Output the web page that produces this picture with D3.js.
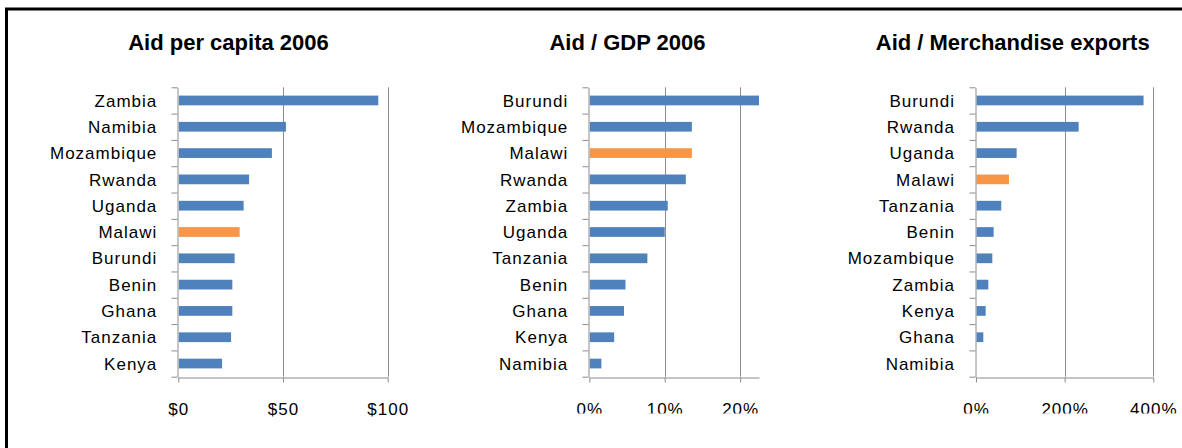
<!DOCTYPE html>
<meta charset="utf-8">
<style>
  body { margin: 0; background: #fff; }
  svg { display: block; }
  text { font-family: "Liberation Sans", Arial, sans-serif; fill: #000; }
  .cat, .tick text { font-size: 17px; letter-spacing: 1px; }
  .title { font-size: 22px; font-weight: bold; }
</style>
<svg id="chart" width="1182" height="448"></svg>
<script src="https://cdn.jsdelivr.net/npm/d3@7"></script>
<script>

// data
var countriesPerCapita = ["Zambia","Namibia","Mozambique","Rwanda","Uganda","Malawi","Burundi","Benin","Ghana","Tanzania","Kenya"];
var aidPerCapita = [95.5, 51.4, 44.7, 33.8, 31.2, 29.3, 26.9, 25.8, 25.8, 25.2, 20.9];

var countriesGdp = ["Burundi","Mozambique","Malawi","Rwanda","Zambia","Uganda","Tanzania","Benin","Ghana","Kenya","Namibia"];
var aidGdp = [22.5, 13.6, 13.6, 12.8, 10.4, 10.0, 7.7, 4.8, 4.6, 3.3, 1.6];

var countriesExports = ["Burundi","Rwanda","Uganda","Malawi","Tanzania","Benin","Mozambique","Zambia","Kenya","Ghana","Namibia"];
var aidExports = [378, 231.6, 91.7, 74.4, 57, 39.8, 36.8, 27.8, 21.8, 16.5, 0];

var titles = ["Aid per capita 2006", "Aid / GDP 2006", "Aid / Merchandise exports"];
var ticksPerCapita = [0, 50, 100];
var ticksGdp = [0, 10, 20];
var ticksExports = [0, 200, 400];
var highlight = "Malawi";

var svg = d3.select("#chart");

// frame (only top and left edges show)
svg.append("rect")
    .attr("x", 6.5).attr("y", 9)
    .attr("width", 1300).attr("height", 600)
    .attr("fill", "none")
    .attr("stroke", "#000")
    .attr("stroke-width", 3);

var plotTop = 87.3, plotBottom = 376.7;
var grey = "#8c8c8c";

var panels = [
  {title: titles[0], cats: countriesPerCapita, vals: aidPerCapita, ticks: ticksPerCapita, max: 100,
   x0: 178.3, x1: 387.7, tx: 228.5, fmt: function(d) { return "$" + d; }, clip: false},
  {title: titles[1], cats: countriesGdp, vals: aidGdp, ticks: ticksGdp, max: 22.5,
   x0: 589.3, x1: 759, tx: 627.5, fmt: function(d) { return d + "%"; }, clip: true},
  {title: titles[2], cats: countriesExports, vals: aidExports, ticks: ticksExports, max: 400,
   x0: 976, x1: 1153.3, tx: 1012.7, fmt: function(d) { return d + "%"; }, clip: true}
];

// the % labels are cut off at the bottom in the original
svg.append("defs").append("clipPath").attr("id", "cut")
  .append("rect").attr("x", -100).attr("y", -10).attr("width", 1400).attr("height", 412.8 - plotBottom + 10);

panels.forEach(function(p) {
  var g = svg.append("g");

  var x = d3.scaleLinear().domain([0, p.max]).range([p.x0, p.x1]);
  var y = d3.scaleBand().domain(p.cats).range([plotTop, plotBottom]).paddingInner(0.63).paddingOuter(0.315);
  var yIdx = d3.scaleLinear().domain([0, p.cats.length]).range([plotTop, plotBottom]);

  g.append("text")
      .attr("class", "title")
      .attr("x", p.tx).attr("y", 49.5)
      .attr("text-anchor", "middle")
      .text(p.title);

  // vertical gridlines
  g.selectAll("line.grid")
    .data(p.ticks.filter(function(d) { return d > 0; }))
    .enter().append("line")
      .attr("class", "grid")
      .attr("x1", function(d) { return Math.round(x(d)) + 0.5; })
      .attr("x2", function(d) { return Math.round(x(d)) + 0.5; })
      .attr("y1", plotTop).attr("y2", plotBottom)
      .attr("stroke", grey).attr("stroke-width", 1);

  // bars
  g.selectAll("rect.bar")
    .data(p.cats)
    .enter().append("rect")
      .attr("class", "bar")
      .attr("x", x(0) + 0.5)
      .attr("y", function(d) { return y(d); })
      .attr("width", function(d, i) { return Math.max(0, x(p.vals[i]) - x(0) - 0.5); })
      .attr("height", y.bandwidth())
      .attr("fill", function(d) { return d === highlight ? "#F79646" : "#4F81BD"; });

  // category axis: ticks on band boundaries
  var left = g.append("g")
      .attr("transform", "translate(" + (Math.round(p.x0) - 0.5) + ",0)")
      .call(d3.axisLeft(yIdx).tickValues(d3.range(p.cats.length + 1))
        .tickSize(6).tickSizeOuter(0).tickFormat(""));
  left.select(".domain").attr("stroke", grey);
  left.selectAll(".tick line").attr("stroke", grey);

  g.selectAll("text.cat")
    .data(p.cats)
    .enter().append("text")
      .attr("class", "cat")
      .attr("x", p.x0 - 21)
      .attr("y", function(d) { return y(d) + y.bandwidth() / 2; })
      .attr("dy", "0.36em")
      .attr("text-anchor", "end")
      .text(function(d) { return d; });

  // value axis
  var bot = g.append("g")
      .attr("transform", "translate(0," + (Math.round(plotBottom) + 0.5) + ")")
      .call(d3.axisBottom(x).tickValues(p.ticks).tickSize(5).tickSizeOuter(0)
        .tickPadding(20.5).tickFormat(p.fmt));
  bot.select(".domain").attr("stroke", grey);
  bot.selectAll(".tick line").attr("stroke", grey);
  bot.attr("font-family", null).attr("font-size", null);
  if (p.clip) bot.attr("clip-path", "url(#cut)");
});
</script>
